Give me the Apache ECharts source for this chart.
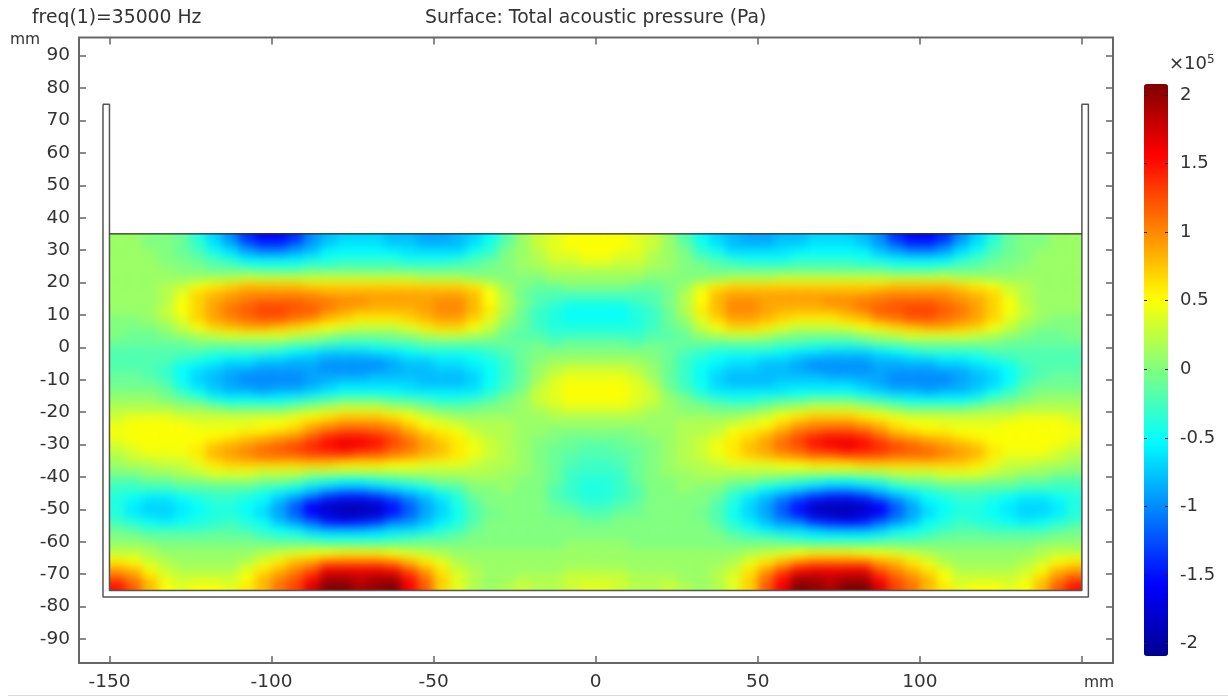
<!DOCTYPE html>
<html><head><meta charset="utf-8">
<script src="https://cdn.jsdelivr.net/npm/echarts@6/dist/echarts.min.js"></script>
<style>html,body{margin:0;padding:0;background:#fff}#c{width:1228px;height:697px}
/* the field's own canvas layer: smooth shading like the reference, trimmed to the vessel */
canvas[data-zr-dom-id="zr_1"]{filter:blur(5px);clip-path:var(--field-clip)}</style></head>
<body><div id="c"></div>
<script>
// Pressure, in units of 1e4 Pa. Left half of the symmetric field, x = -147.5 ... -2.5 mm
const xCells = [-147.5,-142.5,-137.5,-132.5,-127.5,-122.5,-117.5,-112.5,-107.5,-102.5,-97.5,-92.5,-87.5,-82.5,-77.5,-72.5,-67.5,-62.5,-57.5,-52.5,-47.5,-42.5,-37.5,-32.5,-27.5,-22.5,-17.5,-12.5,-7.5,-2.5];
const yCells = [33.75,31.25,28.75,26.25,23.75,21.25,18.75,16.25,13.75,11.25,8.75,6.25,3.75,1.25,-1.25,-3.75,-6.25,-8.75,-11.25,-13.75,-16.25,-18.75,-21.25,-23.75,-26.25,-28.75,-31.25,-33.75,-36.25,-38.75,-41.25,-43.75,-46.25,-48.75,-51.25,-53.75,-56.25,-58.75,-61.25,-63.75,-66.25,-68.75,-71.25,-73.75];
const pressureRows = [
[1,1,0,0,-1,-4,-7,-10,-14,-16,-16,-14,-10,-8,-7,-7,-7,-8,-8,-9,-9,-8,-7,-5,-2,1,3,4,5,5],
[1,1,0,0,-1,-3,-6,-8,-11,-13,-13,-11,-9,-7,-6,-6,-6,-7,-7,-8,-8,-8,-6,-4,-1,1,3,4,5,5],
[1,1,1,0,-1,-2,-4,-6,-8,-9,-9,-8,-7,-5,-5,-5,-5,-5,-6,-6,-6,-6,-4,-3,0,1,2,4,4,5],
[1,1,1,0,0,-1,-2,-3,-5,-5,-5,-5,-4,-4,-3,-3,-3,-3,-4,-4,-4,-3,-2,-1,0,1,2,3,3,4],
[1,1,1,1,0,0,-1,-1,-1,-2,-2,-2,-1,-1,-1,-1,-1,-1,-1,-1,-1,-1,-1,0,0,1,1,2,2,2],
[1,1,1,1,1,1,2,2,3,3,3,3,3,3,3,3,3,3,3,2,2,2,1,0,0,0,0,1,1,1],
[1,1,1,2,3,5,6,7,8,8,8,8,7,7,7,7,7,7,7,7,7,7,6,4,1,0,-1,-1,0,0],
[1,1,1,2,4,7,8,9,10,10,10,10,10,9,9,9,9,9,9,9,9,9,8,5,2,-1,-2,-2,-2,-2],
[1,1,1,2,5,7,9,10,11,12,12,12,11,11,10,10,9,9,9,9,10,10,8,5,2,0,-2,-3,-4,-4],
[1,1,1,3,5,7,9,11,12,13,13,12,12,10,9,8,8,8,8,9,10,10,8,6,2,-1,-3,-4,-5,-5],
[0,0,1,2,4,7,9,10,11,12,12,11,10,8,7,6,6,6,7,8,9,9,7,4,1,-1,-3,-4,-5,-5],
[0,0,0,1,3,5,7,8,9,9,8,7,6,5,4,3,3,3,4,6,7,7,5,3,0,-1,-3,-4,-4,-4],
[0,-1,-1,0,1,2,3,4,4,4,4,3,2,1,0,0,0,0,1,2,3,3,2,1,-1,-2,-2,-3,-3,-3],
[-1,-1,-1,-1,-1,0,0,0,0,0,0,-1,-1,-2,-3,-3,-3,-2,-2,-1,-1,-1,-1,-1,-1,-1,-1,-2,-1,-1],
[-2,-2,-2,-2,-2,-2,-3,-3,-3,-3,-4,-5,-6,-7,-7,-7,-6,-6,-5,-4,-4,-4,-4,-3,-2,-1,0,0,0,0],
[-2,-2,-2,-2,-3,-4,-5,-6,-6,-7,-7,-8,-8,-9,-9,-9,-9,-8,-7,-7,-6,-6,-5,-4,-3,-1,0,1,1,1],
[-2,-2,-2,-3,-5,-6,-7,-8,-8,-9,-9,-9,-9,-10,-10,-10,-10,-9,-8,-8,-7,-7,-6,-5,-3,-1,1,2,3,3],
[-1,-1,-2,-3,-5,-7,-8,-9,-10,-10,-10,-10,-9,-9,-9,-9,-8,-8,-8,-8,-8,-8,-7,-5,-3,-1,1,3,4,4],
[-1,-1,-1,-2,-5,-7,-8,-9,-10,-10,-10,-10,-9,-8,-7,-7,-7,-7,-7,-8,-8,-8,-7,-5,-3,-1,2,4,5,5],
[0,0,0,-1,-3,-5,-7,-8,-8,-9,-8,-8,-7,-6,-5,-5,-5,-5,-6,-6,-6,-6,-6,-4,-2,0,3,4,5,5],
[1,1,1,0,-1,-2,-4,-5,-5,-5,-5,-4,-3,-2,-1,-1,-1,-2,-2,-3,-4,-4,-3,-2,0,1,3,4,5,5],
[2,2,2,2,1,1,0,-1,-1,-1,-1,0,1,2,3,3,3,2,1,0,-1,-1,-1,0,0,1,2,3,4,4],
[3,4,4,4,3,3,3,3,3,3,3,4,5,6,7,7,7,6,5,3,2,1,1,1,1,1,1,2,2,2],
[4,5,5,5,5,4,4,4,4,5,5,6,8,9,10,10,10,9,7,5,4,3,2,2,2,1,1,1,1,1],
[5,5,5,5,5,5,5,5,6,6,7,8,10,12,13,13,12,11,9,7,6,5,3,2,2,1,1,0,0,0],
[4,5,5,5,5,5,6,7,8,9,10,11,13,15,16,16,15,13,11,9,7,6,4,3,2,1,0,0,-1,-1],
[3,4,5,5,5,6,8,9,10,11,12,13,14,15,16,15,14,12,11,9,8,6,5,3,2,1,0,-1,-1,-2],
[2,3,4,4,4,6,8,9,10,11,11,11,12,12,12,11,11,10,9,8,7,6,4,3,2,1,0,-1,-2,-2],
[1,2,2,3,3,4,6,7,7,7,7,7,7,7,6,6,6,5,5,4,4,4,3,2,2,1,0,-1,-2,-3],
[0,0,1,1,2,3,4,4,4,3,3,3,2,2,2,2,2,2,2,2,2,2,2,2,1,1,0,-1,-3,-3],
[-2,-2,-1,-1,0,0,1,1,1,0,0,-1,-3,-4,-5,-5,-4,-3,-2,-1,0,0,1,1,1,0,0,-1,-3,-4],
[-3,-3,-3,-3,-2,-2,-2,-2,-2,-3,-4,-5,-7,-8,-9,-9,-8,-7,-6,-5,-3,-2,0,0,1,0,0,-2,-3,-4],
[-4,-5,-6,-6,-5,-4,-3,-3,-4,-5,-7,-9,-11,-14,-15,-15,-14,-12,-10,-8,-6,-4,-1,0,0,0,0,-2,-3,-4],
[-4,-6,-7,-7,-6,-5,-4,-4,-5,-6,-9,-12,-16,-18,-19,-19,-18,-15,-12,-9,-7,-4,-2,0,0,0,0,-1,-2,-3],
[-4,-6,-7,-7,-6,-5,-4,-4,-5,-7,-9,-12,-16,-18,-19,-19,-18,-15,-12,-9,-7,-5,-2,-1,0,0,0,-1,-1,-2],
[-3,-4,-5,-6,-5,-4,-4,-3,-4,-5,-8,-10,-12,-15,-16,-15,-14,-11,-10,-8,-6,-4,-2,0,0,0,0,0,0,-1],
[-1,-2,-3,-3,-3,-3,-2,-2,-3,-4,-5,-6,-8,-9,-9,-9,-8,-7,-7,-6,-4,-3,-1,0,0,0,0,0,0,0],
[0,0,-1,-1,-1,-1,-1,-1,-1,-2,-3,-3,-4,-5,-5,-5,-5,-4,-3,-2,-2,-1,0,0,0,0,0,0,0,0],
[1,1,1,0,0,0,0,0,0,0,0,0,0,0,0,0,0,0,0,0,0,0,0,0,0,0,0,0,1,1],
[3,3,2,1,1,1,1,1,1,2,3,4,5,5,6,6,6,5,4,3,2,1,1,1,1,1,1,1,1,1],
[6,5,3,2,1,1,1,1,2,4,6,8,9,11,11,11,11,10,8,6,4,2,1,1,1,1,1,1,1,1],
[9,8,5,3,2,2,2,2,4,6,8,10,12,16,16,16,16,15,12,9,6,3,2,1,1,1,1,1,2,2],
[12,10,7,4,3,3,3,3,5,8,10,12,15,19,19,18,19,19,15,11,7,4,2,1,1,2,2,2,3,3],
[15,12,8,5,4,5,5,4,6,8,11,13,17,22,21,19,20,22,16,12,7,4,2,1,2,3,2,2,3,4]
];
const cellW = 5, cellH = 2.5;
const fieldLeft = -150, fieldRight = 150, fieldTop = 35, fieldBottom = -75;
const xTicks = [-150,-100,-50,0,50,100,150];
const xLabels = [-150,-100,-50,0,50,100];
const yTicks = [-90,-80,-70,-60,-50,-40,-30,-20,-10,0,10,20,30,40,50,60,70,80,90];
const barTicks = [-2,-1.5,-1,-0.5,0,0.5,1,1.5,2];
const wallX = [-152,-152,152,152,150,150,-150,-150,-152];
const wallY = [75,-77,-77,75,75,-75,-75,75,75];
const surfaceX = [fieldLeft,fieldRight];
const surfaceY = [fieldTop,fieldTop];

const cells = [];
pressureRows.forEach((row,j)=>{ row.forEach((v,i)=>{
  cells.push([xCells[i],yCells[j],v]);
  cells.push([-xCells[i],yCells[j],v]);
});});

const font='DejaVu Sans', tc='#333', fc='#666';
const tickX={show:true,inside:true,length:7,customValues:xTicks,lineStyle:{color:fc,width:1.5}};
const tickY={show:true,inside:true,length:7,customValues:yTicks,lineStyle:{color:fc,width:1.5}};
const line0={show:false,onZero:false};
const chart=echarts.init(document.getElementById('c'),null,{renderer:'canvas'});
const bleed=10; // edge cells run past the trim so the blur keeps full colour up to the vessel wall
chart.setOption({
 animation:false,backgroundColor:'#fff',
 title:[
  {text:'freq(1)=35000 Hz',left:32,top:9,padding:0,textStyle:{fontFamily:font,fontSize:18.8,fontWeight:'normal',color:tc}},
  {text:'Surface: Total acoustic pressure (Pa)',left:425,top:9,padding:0,textStyle:{fontFamily:font,fontSize:18.8,fontWeight:'normal',color:tc}},
  {text:'mm',left:10,top:32,padding:0,textStyle:{fontFamily:font,fontSize:15.5,fontWeight:'normal',color:tc}},
  {text:'mm',left:1084,top:675,padding:0,textStyle:{fontFamily:font,fontSize:15.5,fontWeight:'normal',color:tc}},
  {text:'×10{s|5}',left:1169,top:54,padding:0,textStyle:{fontFamily:font,fontSize:18,fontWeight:'normal',color:tc,
     rich:{s:{fontFamily:font,fontSize:12,verticalAlign:'top',color:tc,padding:[0,0,8,0]}}}}
 ],
 grid:[
  {left:79,top:37.5,width:1034,height:625.5,show:true,borderColor:fc,borderWidth:2,backgroundColor:'#fff'},
  {left:1144,top:84,width:24,height:572,show:false}
 ],
 xAxis:[
  {type:'value',gridIndex:0,position:'bottom',min:-159.4,max:159.6,splitLine:{show:false},axisLine:line0,axisTick:tickX,
   axisLabel:{customValues:xLabels,margin:10,fontFamily:font,fontSize:18.5,color:tc}},
  {type:'value',gridIndex:0,position:'top',min:-159.4,max:159.6,splitLine:{show:false},axisLine:line0,axisTick:tickX,axisLabel:{show:false}},
  {type:'value',gridIndex:1,min:0,max:1,show:false}
 ],
 yAxis:[
  {type:'value',gridIndex:0,position:'left',min:-97.4,max:95.6,splitLine:{show:false},axisLine:line0,axisTick:tickY,
   axisLabel:{customValues:yTicks,margin:9,fontFamily:font,fontSize:18.5,color:tc}},
  {type:'value',gridIndex:0,position:'right',min:-97.4,max:95.6,splitLine:{show:false},axisLine:line0,axisTick:tickY,axisLabel:{show:false}},
  {type:'value',gridIndex:1,position:'right',min:-2.09,max:2.08,splitLine:{show:false},axisLine:line0,zlevel:2,
   axisTick:{show:true,inside:true,length:3,customValues:barTicks,lineStyle:{color:'#222',width:1}},
   axisLabel:{customValues:barTicks,margin:12,fontFamily:font,fontSize:18,color:tc}},
  {type:'value',gridIndex:1,position:'left',min:-2.09,max:2.08,splitLine:{show:false},axisLine:line0,zlevel:2,
   axisTick:{show:true,inside:true,length:3,customValues:barTicks,lineStyle:{color:'#222',width:1}},axisLabel:{show:false}}
 ],
 visualMap:{type:'continuous',seriesIndex:0,dimension:2,min:-20.9,max:20.8,left:1144,top:84,padding:0,itemWidth:24,itemHeight:572,
   calculable:false,realtime:false,text:null,hoverLink:false,borderRadius:0,
   inRange:{color:['#00008f','#0000ff','#0080ff','#00ffff','#80ff80','#ffff00','#ff8000','#ff0000','#800000']}},
 series:[
  {type:'custom',xAxisIndex:0,yAxisIndex:0,data:cells,encode:{x:0,y:1},silent:true,clip:false,zlevel:1,
   renderItem(p,api){
     const x=api.value(0),y=api.value(1);
     let l=x-cellW/2,r=x+cellW/2,t=y+cellH/2,b=y-cellH/2;
     if(l<=fieldLeft) l-=bleed;
     if(r>=fieldRight) r+=bleed;
     if(t>=fieldTop) t+=bleed;
     if(b<=fieldBottom) b-=bleed;
     const A=api.coord([l,t]),B=api.coord([r,b]);
     const c=api.visual('color');
     return {type:'rect',shape:{x:A[0],y:A[1],width:B[0]-A[0],height:B[1]-A[1]},style:{fill:c,stroke:c,lineWidth:0.6}};
   }},
  {type:'line',xAxisIndex:0,yAxisIndex:0,data:wallX.map((x,i)=>[x,wallY[i]]),symbol:'none',silent:true,zlevel:2,
   lineStyle:{color:'#555',width:1.5}},
  {type:'line',xAxisIndex:0,yAxisIndex:0,data:surfaceX.map((x,i)=>[x,surfaceY[i]]),symbol:'none',silent:true,zlevel:2,
   lineStyle:{color:'#333',width:1.2}}
 ],
 graphic:[{type:'line',silent:true,shape:{x1:8,y1:695.5,x2:1228,y2:695.5},style:{stroke:'#ddd',lineWidth:1}}]
});
const tl=chart.convertToPixel({xAxisIndex:0,yAxisIndex:0},[fieldLeft,fieldTop]);
const br=chart.convertToPixel({xAxisIndex:0,yAxisIndex:0},[fieldRight,fieldBottom]);
document.documentElement.style.setProperty('--field-clip',`inset(${tl[1]}px ${1228-br[0]}px ${697-br[1]}px ${tl[0]}px)`);
</script></body></html>
